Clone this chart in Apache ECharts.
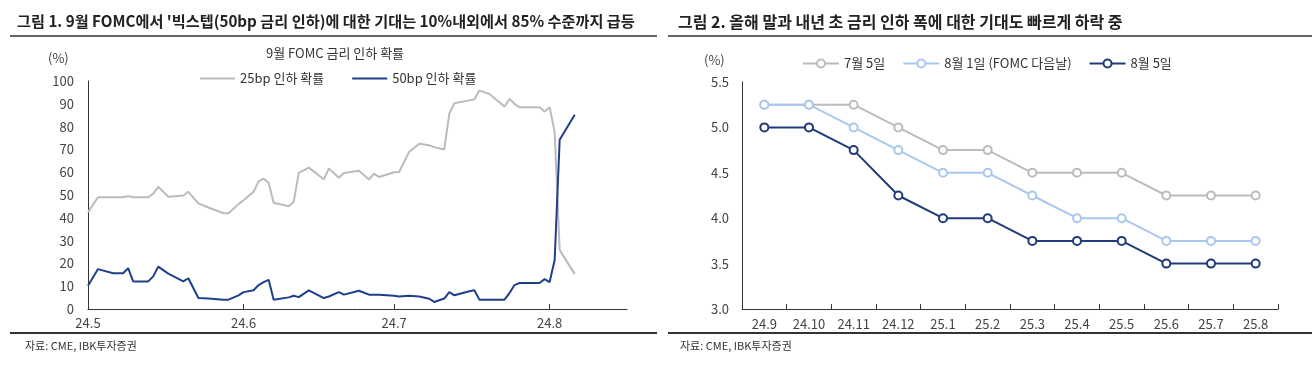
<!DOCTYPE html>
<html><head><meta charset="utf-8">
<script src="https://cdn.jsdelivr.net/npm/echarts@6/dist/echarts.min.js"></script>
<style>html,body{margin:0;padding:0;background:#fff}#c{width:1316px;height:370px}</style>
</head><body><div id="c"></div>
<script>
// ---- Chart 1: 9월 FOMC 금리 인하 확률 (%)
const dates = ['2024-05-01','2024-05-03','2024-05-06','2024-05-08','2024-05-09','2024-05-10','2024-05-13','2024-05-14','2024-05-15','2024-05-17',
  '2024-05-20','2024-05-21','2024-05-23','2024-05-25','2024-05-28','2024-05-29','2024-05-31','2024-06-01','2024-06-03','2024-06-04',
  '2024-06-05','2024-06-06','2024-06-07','2024-06-10','2024-06-11','2024-06-12','2024-06-14','2024-06-17','2024-06-18','2024-06-20',
  '2024-06-21','2024-06-24','2024-06-26','2024-06-27','2024-06-28','2024-07-01','2024-07-02','2024-07-04','2024-07-06','2024-07-08',
  '2024-07-09','2024-07-11','2024-07-12','2024-07-13','2024-07-16','2024-07-17','2024-07-18','2024-07-20','2024-07-23','2024-07-24',
  '2024-07-25','2024-07-26','2024-07-30','2024-07-31','2024-08-01','2024-08-02','2024-08-03','2024-08-06'];
const cut25 = [42.5,49,49,49,49.5,49,49,50.6,53.6,49.2,
  49.8,51.4,46.3,44.5,42,42,46,47.7,51.4,56,
  57.2,55.3,46.6,45.1,47,59.7,62,56.9,61.6,57.6,
  59.6,60.6,56.8,59.4,57.9,60,60.1,68.9,72.5,71.8,
  71,70,85.6,90.2,91.5,92,95.8,94.3,88.8,92.1,
  90,88.5,88.5,86.6,88.5,77.6,25.9,15.3];
const cut50 = [10.2,17.5,15.7,15.7,17.9,12.1,12.1,14.3,18.6,15.5,
  12.1,13.5,4.8,4.6,4.1,4.1,6,7.4,8.2,10.5,
  11.8,12.8,4.1,5.1,5.8,5.2,8.2,4.8,5.5,7.4,
  6.3,8,6.3,6.3,6.2,5.8,5.5,5.8,5.5,4.5,
  3.1,4.6,7.4,6,7.8,8.2,4.1,4.1,4.1,7,
  10.5,11.4,11.4,13.1,11.8,21.5,74.2,85.2];
const monthTicks = ['2024-05-01','2024-06-01','2024-07-01','2024-08-01'];

// ---- Chart 2: 시점별 정책금리 기대 경로 (%)
const months2 = ['24.9','24.10','24.11','24.12','25.1','25.2','25.3','25.4','25.5','25.6','25.7','25.8'];
const jul5 = [5.25,5.25,5.25,5.0,4.75,4.75,4.5,4.5,4.5,4.25,4.25,4.25];
const aug1 = [5.25,5.25,5.0,4.75,4.5,4.5,4.25,4.0,4.0,3.75,3.75,3.75];
const aug5 = [5.0,5.0,4.75,4.25,4.0,4.0,3.75,3.75,3.75,3.5,3.5,3.5];

const FONT = '"Noto Sans CJK KR", "Noto Sans", sans-serif';
const P = s => Date.UTC(+s.slice(0,4), +s.slice(5,7)-1, +s.slice(8,10), s.length>10 ? +s.slice(11,13) : 0);
const chart = echarts.init(document.getElementById('c'), null, {renderer:'canvas'});
const lab = {color:'#444', fontFamily:FONT, fontSize:13};
const axLine = {show:true, lineStyle:{color:'#333', width:1}};

chart.setOption({
  animation:false,
  backgroundColor:'#fff',
  textStyle:{fontFamily:FONT},
  title:[
    {text:"그림 1. 9월 FOMC에서 '빅스텝(50bp 금리 인하)에 대한 기대는 10%내외에서 85% 수준까지 급등", left:12, top:9,
     textStyle:{fontFamily:FONT, fontSize:15.2, fontWeight:'bold', color:'#222'}},
    {text:'그림 2. 올해 말과 내년 초 금리 인하 폭에 대한 기대도 빠르게 하락 중', left:673, top:9,
     textStyle:{fontFamily:FONT, fontSize:16, fontWeight:'bold', color:'#222'}},
    {text:'9월 FOMC 금리 인하 확률', left:330, textAlign:'center', top:42, textStyle:{...lab, fontWeight:'normal', color:'#333'}},
    {text:'(%)', left:43, top:47, textStyle:{...lab, fontWeight:'normal'}},
    {text:'(%)', left:699, top:49, textStyle:{...lab, fontWeight:'normal'}},
    {text:'자료: CME, IBK투자증권', left:20, top:335, textStyle:{fontFamily:FONT, fontSize:11, fontWeight:'normal', color:'#333'}},
    {text:'자료: CME, IBK투자증권', left:675, top:335, textStyle:{fontFamily:FONT, fontSize:11, fontWeight:'normal', color:'#333'}}
  ],
  graphic:[
    {type:'line', shape:{x1:10,y1:36,x2:657,y2:36}, style:{stroke:'#333', lineWidth:1.5}},
    {type:'line', shape:{x1:668,y1:36,x2:1312,y2:36}, style:{stroke:'#333', lineWidth:1.5}},
    {type:'line', shape:{x1:10,y1:333,x2:657,y2:333}, style:{stroke:'#333', lineWidth:2}},
    {type:'line', shape:{x1:668,y1:333,x2:1312,y2:333}, style:{stroke:'#333', lineWidth:2}}
  ],
  legend:[
    {data:['25bp 인하 확률','50bp 인하 확률'], left:195, top:67, icon:'rect', itemWidth:35, itemHeight:2, itemGap:28,
     textStyle:{...lab, color:'#333'}},
    {data:['7월 5일','8월 1일 (FOMC 다음날)','8월 5일'], left:797, top:52, itemWidth:36, itemHeight:10, itemGap:17,
     textStyle:{...lab, color:'#333'}}
  ],
  grid:[
    {left:88, right:689, top:81, bottom:61},
    {left:742, right:38, top:82, bottom:61}
  ],
  xAxis:[
    {type:'value', gridIndex:0, min:P('2024-05-01'), max:P('2024-08-16 10'),
     axisLine:axLine, splitLine:{show:false},
     axisTick:{show:true, inside:true, length:5, lineStyle:{color:'#333'}, customValues:monthTicks.map(P)},
     axisLabel:{...lab, margin:8, customValues:monthTicks.map(P),
       formatter:v=>{const d=new Date(v); return (d.getUTCFullYear()%100)+'.'+(d.getUTCMonth()+1);}}},
    {type:'category', gridIndex:1, data:months2, boundaryGap:true,
     axisLine:axLine, splitLine:{show:false},
     axisTick:{show:true, inside:true, length:5, lineStyle:{color:'#333'}},
     axisLabel:{...lab, margin:9}}
  ],
  yAxis:[
    {type:'value', gridIndex:0, min:0, max:100, interval:10,
     axisLine:axLine, axisTick:{show:false}, splitLine:{show:false},
     axisLabel:{...lab, margin:14}},
    {type:'value', gridIndex:1, min:3, max:5.5, interval:0.5,
     axisLine:axLine, axisTick:{show:false}, splitLine:{show:false},
     axisLabel:{...lab, margin:13, formatter:v=>v.toFixed(1)}}
  ],
  series:[
    {name:'25bp 인하 확률', type:'line', xAxisIndex:0, yAxisIndex:0, showSymbol:false, symbol:'none',
     data:dates.map((d,i)=>[P(d),cut25[i]]), color:'#bbbbbb', lineStyle:{color:'#bbbbbb', width:2}},
    {name:'50bp 인하 확률', type:'line', xAxisIndex:0, yAxisIndex:0, showSymbol:false, symbol:'none',
     data:dates.map((d,i)=>[P(d),cut50[i]]), color:'#1f3f8c', lineStyle:{color:'#1f3f8c', width:2}},
    {name:'7월 5일', type:'line', xAxisIndex:1, yAxisIndex:1, data:jul5, symbol:'emptyCircle', symbolSize:8,
     color:'#bcbcbc', lineStyle:{color:'#bcbcbc', width:2}, itemStyle:{borderWidth:1.5}},
    {name:'8월 1일 (FOMC 다음날)', type:'line', xAxisIndex:1, yAxisIndex:1, data:aug1, symbol:'emptyCircle', symbolSize:8,
     color:'#a9c8ef', lineStyle:{color:'#a9c8ef', width:2}, itemStyle:{borderWidth:1.5}},
    {name:'8월 5일', type:'line', xAxisIndex:1, yAxisIndex:1, data:aug5, symbol:'emptyCircle', symbolSize:8,
     color:'#213b78', lineStyle:{color:'#213b78', width:2}, itemStyle:{borderWidth:1.5}}
  ]
});
</script></body></html>
